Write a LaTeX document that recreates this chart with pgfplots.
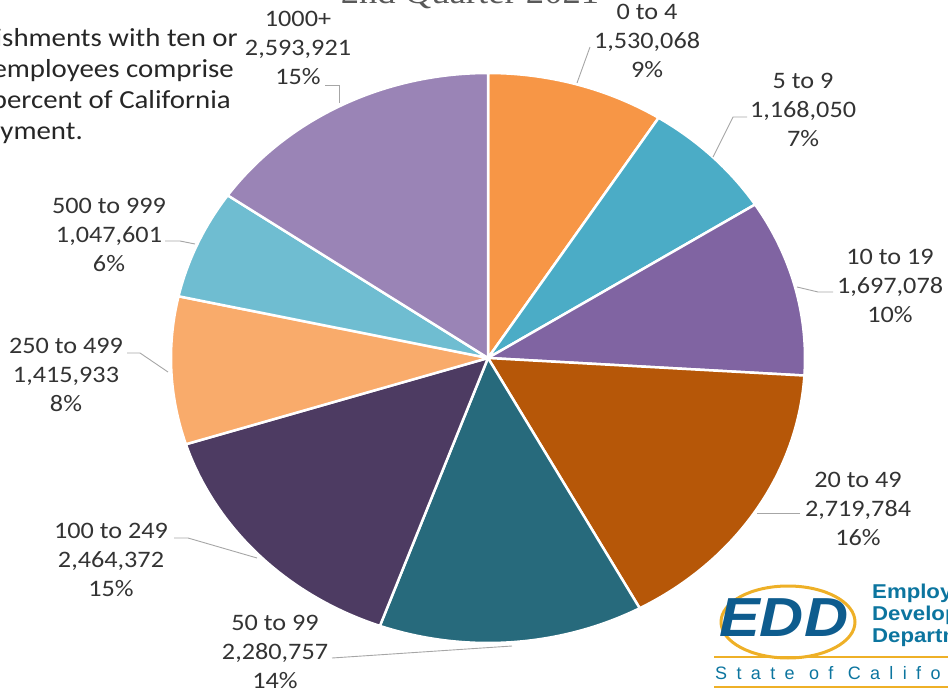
\documentclass[border=0pt]{standalone}
\usepackage{pgfplots}
\pgfplotsset{compat=1.18}
\usepackage{pgfplotstable}
\usepackage{fontspec}
\setmainfont{Carlito}[FakeStretch=1.11]
\newfontfamily\titlefont{Liberation Serif}[FakeStretch=1.11]
\newfontfamily\eddfont{Liberation Sans}[FakeStretch=1.11]
\newfontfamily\eddspaced{Liberation Sans}[LetterSpace=52]

\definecolor{cA}{HTML}{F79646}
\definecolor{cB}{HTML}{4BACC6}
\definecolor{cC}{HTML}{8064A2}
\definecolor{cD}{HTML}{B65708}
\definecolor{cE}{HTML}{276A7C}
\definecolor{cF}{HTML}{4D3B62}
\definecolor{cG}{HTML}{F9AB6B}
\definecolor{cH}{HTML}{6FBDD1}
\definecolor{cI}{HTML}{9A84B6}
\definecolor{labelgray}{HTML}{333333}
\definecolor{leadgray}{HTML}{A6A6A6}
\definecolor{titlegray}{HTML}{595959}
\definecolor{eddblue}{HTML}{0E5C8E}
\definecolor{eddgold}{HTML}{EEB027}

% employment by establishment size
\pgfplotstableread[col sep=comma]{
size,value,pct,col
0 to 4,1530068,9,cA
5 to 9,1168050,7,cB
10 to 19,1697078,10,cC
20 to 49,2719784,16,cD
50 to 99,2280757,14,cE
100 to 249,2464372,15,cF
250 to 499,1415933,8,cG
500 to 999,1047601,6,cH
1000+,2593921,15,cI
}\pietable

% cumulative angles (clockwise from the top)
\gdef\cum{0}
\foreach \i in {0,...,8}{%
  \pgfplotstablegetelem{\i}{value}\of\pietable
  \xdef\cum{\fpeval{\cum+\pgfplotsretval}}%
}
\xdef\total{\cum}
\gdef\cum{0}
\foreach \i in {0,...,8}{%
  \pgfplotstablegetelem{\i}{value}\of\pietable
  \expandafter\xdef\csname sA\i\endcsname{\fpeval{90-360*\cum/\total}}%
  \xdef\cum{\fpeval{\cum+\pgfplotsretval}}%
  \expandafter\xdef\csname eA\i\endcsname{\fpeval{90-360*\cum/\total}}%
  \pgfplotstablegetelem{\i}{col}\of\pietable
  \expandafter\xdef\csname cl\i\endcsname{\pgfplotsretval}%
}

\tikzset{lbl/.style={font=\fontsize{23.6}{29}\selectfont, text=labelgray, inner sep=0pt, anchor=base}}
\newcommand\lbl[5]{%
  \node[lbl] at (#1,#2) {#3};
  \node[lbl] at (#1,#2+29) {#4};
  \node[lbl] at (#1,#2+58) {#5};}

\begin{document}
\begin{tikzpicture}
\useasboundingbox (0,0) rectangle (948pt,689pt);
\clip (0,0) rectangle (948pt,689pt);
\begin{axis}[at={(488pt,331pt)}, anchor=center, scale only axis,
  width=634pt, height=570pt, xmin=-1, xmax=1, ymin=-1, ymax=1,
  hide axis, clip=false]
\pgfplotsinvokeforeach{0,...,8}{%
  \edef\slice{\noexpand\addplot[fill=\csname cl#1\endcsname, draw=white,
     line width=2.5pt, line join=round,
     domain=\csname eA#1\endcsname:\csname sA#1\endcsname,
     samples=90, variable=\noexpand\t]}%
  \slice ({cos(\t)},{sin(\t)}) -- (axis cs:0,0) -- cycle;
}
\end{axis}

\begin{scope}[yshift=689pt, x=1pt, y=-1pt]
% title (cut at the top)
\node[anchor=base, inner sep=0pt, text=titlegray,
  font=\titlefont\fontsize{33}{40}\selectfont] at (470,4) {2nd Quarter 2021};
% note, cut at the left
\begin{scope}[every node/.style={anchor=base east, inner sep=0pt, text=black!85,
   font=\fontsize{26}{31}\selectfont}]
\node at (238,47) {Establishments with ten or};
\node at (234,78) {more employees comprise};
\node at (231,109) {84 percent of California};
\node at (83,140) {employment.};
\end{scope}

% labels
\lbl{647}{20}{0 to 4}{1,530,068}{9\%}
\lbl{803}{89}{5 to 9}{1,168,050}{7\%}
\lbl{890}{265}{10 to 19}{1,697,078}{10\%}
\lbl{858}{487}{20 to 49}{2,719,784}{16\%}
\lbl{275}{630}{50 to 99}{2,280,757}{14\%}
\lbl{111}{538}{100 to 249}{2,464,372}{15\%}
\lbl{66}{354}{250 to 499}{1,415,933}{8\%}
\lbl{109}{214}{500 to 999}{1,047,601}{6\%}
\lbl{298}{27}{1000+}{2,593,921}{15\%}

% leader lines
\begin{scope}[draw=leadgray, line width=0.9pt]
\draw (590,47) -- (577,83);
\draw (747,117) -- (733,117) -- (713,157);
\draw (833,292) -- (818,292) -- (797,287);
\draw (800,513) -- (757,513);
\draw (332,658) -- (512,646);
\draw (174,538) -- (188,538) -- (257,558);
\draw (127,353) -- (140,353) -- (168,372);
\draw (165,241) -- (180,241) -- (195,244);
\draw (325,85) -- (339,85) -- (339,103);
\end{scope}

% EDD logo (cut at the right)
\draw[eddgold, line width=3pt] (788,622) ellipse [x radius=67, y radius=36];
\node[anchor=base west, inner sep=0pt, text=eddblue,
  font=\eddfont\bfseries\itshape\fontsize{55}{60}\selectfont] at (719,636) {EDD};
\begin{scope}[every node/.style={anchor=base west, inner sep=0pt, text=eddblue!85!cyan,
   font=\eddfont\bfseries\fontsize{20}{24}\selectfont}]
\node at (872,598) {Employment};
\node at (872,620) {Development};
\node at (872,642) {Department};
\end{scope}
\draw[eddgold, line width=2.5pt] (714,657) -- (960,657);
\node[anchor=base west, inner sep=0pt, text=eddblue!85!cyan,
  font=\eddspaced\fontsize{18}{20}\selectfont] at (715,679) {State of California};
\draw[eddgold, line width=2pt] (714,687) -- (960,687);
\end{scope}
\end{tikzpicture}
\end{document}
